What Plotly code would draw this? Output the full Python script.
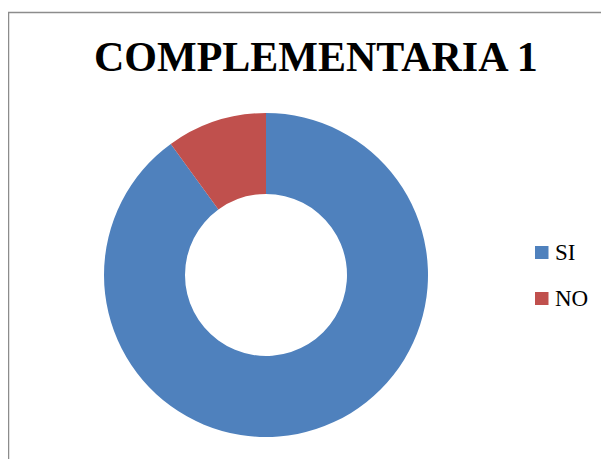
import plotly.graph_objects as go

labels = ["SI", "NO"]
values = [90, 10]
colors = ["#4F81BD", "#C0504D"]
title_text = "COMPLEMENTARIA 1"

OFF = 8  # page body margin
W, H = 609 - OFF, 459 - OFF
FONT = '"Times New Roman", "Liberation Serif", "DejaVu Serif", serif'

def px(x):
    return (x - OFF) / W

def py(y):
    return 1 - (y - OFF) / H

fig = go.Figure(go.Pie(
    labels=labels,
    values=values,
    hole=0.5,
    sort=False,
    direction="clockwise",
    rotation=0,
    marker=dict(colors=colors, line=dict(width=0)),
    textinfo="none",
    hoverinfo="label+value",
    showlegend=False,
    domain=dict(x=[px(104), px(428)], y=[py(437), py(113)]),
))

shapes = [dict(type="rect", xref="paper", yref="paper",
               x0=px(8.5), x1=1.05, y0=-0.05, y1=py(12.5),
               line=dict(color="#8c8c8c", width=1.5), fillcolor="rgba(0,0,0,0)")]
annotations = [dict(text="<b>" + title_text + "</b>", xref="paper", yref="paper",
                    x=px(315.5), y=py(57), xanchor="center", yanchor="middle",
                    showarrow=False, font=dict(family=FONT, size=42, color="black"))]

legend_top = 246.5
legend_step = 46
for i, (lab, col) in enumerate(zip(labels, colors)):
    yc = legend_top + 6 + i * legend_step
    shapes.append(dict(type="rect", xref="paper", yref="paper",
                       x0=px(535), x1=px(548.5), y0=py(yc + 6.5), y1=py(yc - 6.5),
                       line=dict(width=0), fillcolor=col))
    annotations.append(dict(text=lab, xref="paper", yref="paper",
                            x=px(553), y=py(yc), xanchor="left", yanchor="middle",
                            showarrow=False, font=dict(family=FONT, size=23, color="black")))

fig.update_layout(
    width=W, height=H,
    margin=dict(l=0, r=0, t=0, b=0),
    paper_bgcolor="white",
    plot_bgcolor="white",
    font=dict(family=FONT),
    shapes=shapes,
    annotations=annotations,
)

fig.write_html("out.html")
